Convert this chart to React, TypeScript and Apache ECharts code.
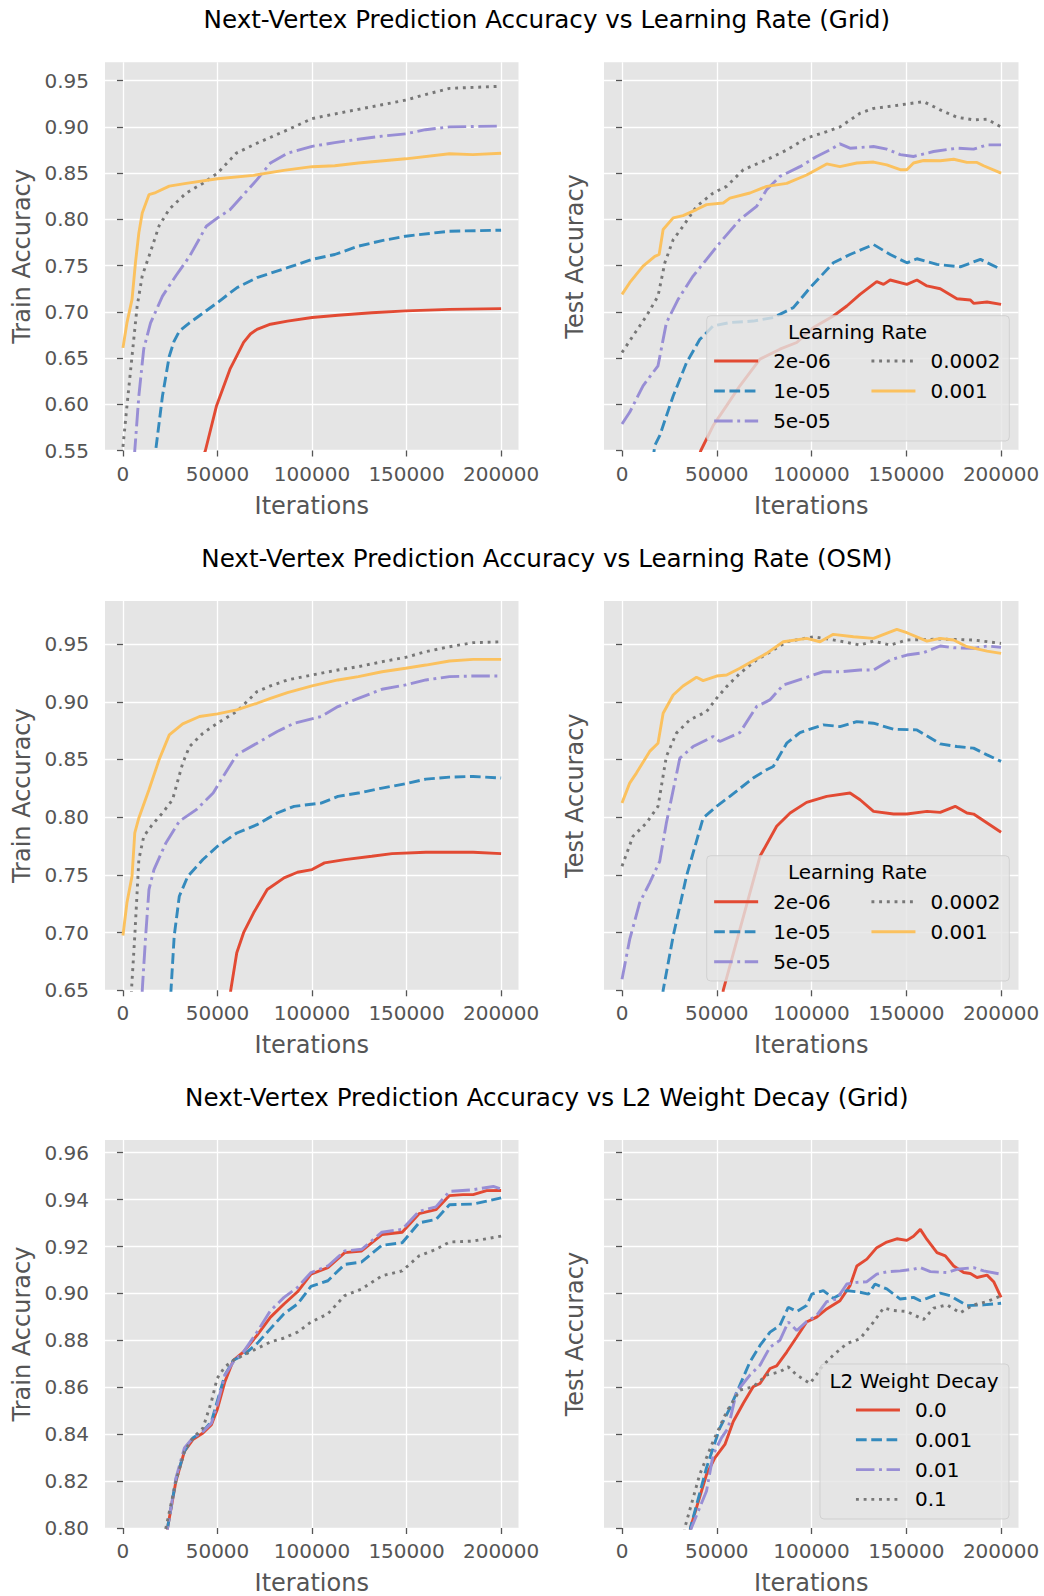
import React, { useEffect, useRef } from "react";
import * as echarts from "echarts";

type Pts = [number, number][];

// ---------- tick values ----------
const xTickValues = [0, 50000, 100000, 150000, 200000];
const yTicksGridLR = [0.55, 0.6, 0.65, 0.7, 0.75, 0.8, 0.85, 0.9, 0.95];
const yTicksOsmLR = [0.65, 0.7, 0.75, 0.8, 0.85, 0.9, 0.95];
const yTicksWD = [0.8, 0.82, 0.84, 0.86, 0.88, 0.9, 0.92, 0.94, 0.96];

// ---------- legend categories ----------
const lrNames = ["2e-06", "1e-05", "5e-05", "0.0002", "0.001"];
const wdNames = ["0.0", "0.001", "0.01", "0.1"];

const titles = [
  "Next-Vertex Prediction Accuracy vs Learning Rate (Grid)",
  "Next-Vertex Prediction Accuracy vs Learning Rate (OSM)",
  "Next-Vertex Prediction Accuracy vs L2 Weight Decay (Grid)",
];

// ---------- Grid, learning rate, train ----------
const gridTrain_2e06: Pts = [[38000,0.52],[43600,0.55],[49500,0.5985],[56600,0.638],[60200,0.6524],[63800,0.667],[67400,0.676],[70900,0.681],[78000,0.6866],[87000,0.69],[100000,0.6938],[113700,0.6963],[131600,0.699],[149500,0.701],[172700,0.7027],[200000,0.7035]];
const gridTrain_1e05: Pts = [[15500,0.52],[17300,0.55],[20900,0.609],[24500,0.652],[27000,0.668],[29800,0.679],[35200,0.688],[50000,0.71],[60200,0.726],[70900,0.737],[87000,0.7477],[100000,0.7567],[112000,0.762],[124500,0.771],[137000,0.777],[149500,0.7818],[172700,0.7872],[200000,0.7883]];
const gridTrain_5e05: Pts = [[5000,0.51],[6250,0.55],[8400,0.609],[11000,0.66],[14600,0.688],[20900,0.717],[28000,0.739],[35200,0.76],[44100,0.7926],[50000,0.8016],[56600,0.8105],[63000,0.825],[70900,0.843],[78000,0.861],[87000,0.8716],[100000,0.879],[112000,0.883],[124500,0.8867],[137000,0.89],[149500,0.8925],[160000,0.897],[172700,0.9],[200000,0.901]];
const gridTrain_2e04: Pts = [[0,0.554],[2100,0.598],[4800,0.652],[7500,0.706],[10200,0.739],[13750,0.76],[19100,0.793],[24500,0.811],[33400,0.8285],[42300,0.839],[50000,0.85],[60000,0.8717],[70900,0.8824],[87000,0.8968],[100000,0.909],[112000,0.914],[124500,0.919],[137000,0.924],[149500,0.929],[160000,0.935],[172700,0.9417],[200000,0.944]];
const gridTrain_1e03: Pts = [[0,0.661],[2100,0.688],[4800,0.7135],[6600,0.753],[8400,0.7854],[10200,0.807],[13750,0.8267],[17300,0.829],[24500,0.836],[33400,0.839],[50000,0.844],[69000,0.8476],[85000,0.853],[100000,0.857],[112000,0.858],[124500,0.861],[149500,0.8655],[172700,0.871],[185000,0.87],[200000,0.8716]];

// ---------- Grid, learning rate, test ----------
const gridTest_2e06: Pts = [[40000,0.54],[41600,0.55],[48100,0.577],[55200,0.5985],[62200,0.62],[72800,0.6488],[83300,0.6596],[92200,0.6668],[101000,0.683],[111500,0.6955],[118600,0.7063],[125600,0.7189],[134400,0.7326],[138000,0.7297],[141500,0.7344],[150300,0.7297],[155600,0.7344],[160900,0.728],[167900,0.725],[176700,0.7142],[183800,0.7128],[185500,0.7092],[192600,0.7106],[200000,0.708]];
const gridTest_1e05: Pts = [[16300,0.54],[17300,0.5554],[19900,0.566],[27000,0.609],[34000,0.6448],[41000,0.67],[48100,0.6848],[56900,0.6884],[69200,0.69],[79800,0.6938],[90400,0.7045],[99200,0.726],[111500,0.753],[120300,0.762],[132700,0.7728],[141500,0.762],[150300,0.753],[155600,0.7574],[166200,0.7513],[178500,0.7487],[189100,0.7567],[200000,0.746]];
const gridTest_5e05: Pts = [[0,0.5787],[4050,0.5913],[11100,0.62],[19000,0.6416],[23400,0.688],[29600,0.7135],[37500,0.7387],[44600,0.7567],[51600,0.7746],[62200,0.7998],[71000,0.814],[76300,0.832],[83300,0.8465],[93900,0.857],[102700,0.868],[109800,0.8753],[115000,0.8817],[120300,0.877],[132700,0.8788],[139700,0.876],[146800,0.87],[153800,0.868],[164400,0.8734],[176700,0.877],[185500,0.876],[192600,0.8806],[200000,0.8806]];
const gridTest_2e04: Pts = [[0,0.656],[5800,0.674],[12900,0.6955],[19000,0.717],[22600,0.753],[27000,0.778],[32200,0.7926],[39300,0.814],[48100,0.8285],[55200,0.8357],[64000,0.8537],[76300,0.8645],[86900,0.875],[97400,0.888],[108000,0.895],[115000,0.9],[125600,0.9148],[132700,0.92],[146800,0.9238],[159100,0.9274],[167900,0.9184],[176700,0.9105],[185500,0.9076],[192600,0.9083],[200000,0.9]];
const gridTest_1e03: Pts = [[0,0.7189],[4050,0.7315],[11100,0.7495],[17300,0.76],[19600,0.762],[21700,0.789],[27000,0.8016],[32200,0.804],[39300,0.8106],[44600,0.816],[53400,0.8177],[56900,0.823],[67500,0.8285],[76300,0.8357],[86900,0.839],[97400,0.848],[108000,0.86],[115000,0.857],[123900,0.861],[132700,0.862],[139700,0.859],[146800,0.8537],[150300,0.8537],[153800,0.861],[159100,0.8637],[167900,0.8634],[175000,0.865],[182000,0.8616],[187300,0.8616],[190800,0.858],[200000,0.85]];

// ---------- OSM, learning rate, train ----------
const osmTrain_2e06: Pts = [[55500,0.62],[57000,0.65],[60200,0.6826],[63800,0.6999],[69100,0.7171],[76300,0.7373],[85200,0.7474],[92300,0.7523],[100000,0.7546],[106600,0.7604],[117300,0.7632],[131600,0.7661],[142300,0.7684],[160200,0.7696],[185200,0.7696],[200000,0.7684]];
const osmTrain_1e05: Pts = [[24800,0.62],[25400,0.65],[27100,0.697],[29800,0.7315],[34300,0.7488],[42300,0.7633],[50000,0.7748],[60200,0.7863],[70900,0.7935],[81600,0.8036],[90500,0.8094],[104800,0.8122],[113700,0.818],[124500,0.8209],[137000,0.8252],[149500,0.829],[160200,0.833],[172700,0.8347],[185200,0.8353],[200000,0.8339]];
const osmTrain_5e05: Pts = [[9700,0.62],[10200,0.65],[12000,0.697],[13750,0.7373],[16400,0.7546],[22700,0.7777],[29800,0.7964],[38800,0.8065],[47700,0.8209],[53000,0.8353],[60200,0.854],[70900,0.8641],[81600,0.8742],[90500,0.8814],[104800,0.8872],[113700,0.8958],[124500,0.903],[137000,0.9108],[149500,0.9146],[160200,0.9189],[172700,0.9218],[185200,0.9223],[200000,0.9223]];
const osmTrain_2e04: Pts = [[4000,0.62],[4500,0.65],[6250,0.697],[8400,0.7633],[11000,0.7834],[15500,0.7935],[20900,0.8036],[26200,0.8151],[31600,0.8468],[35200,0.8612],[42300,0.8728],[50000,0.8814],[60200,0.8915],[70900,0.9088],[78000,0.9137],[87000,0.9189],[100000,0.9232],[113700,0.9275],[124500,0.9304],[137000,0.9347],[149500,0.9385],[160200,0.9434],[172700,0.9477],[185200,0.9512],[200000,0.952]];
const osmTrain_1e03: Pts = [[0,0.6975],[2100,0.7258],[4800,0.749],[6250,0.7863],[8400,0.7993],[13750,0.8238],[19100,0.8497],[24500,0.8713],[31600,0.8808],[40500,0.8872],[50000,0.8895],[60200,0.8929],[70900,0.8987],[78000,0.903],[87000,0.9079],[100000,0.9137],[113700,0.9189],[124500,0.9218],[137000,0.926],[149500,0.929],[160200,0.9318],[172700,0.9353],[185200,0.9367],[200000,0.9367]];

// ---------- OSM, learning rate, test ----------
const osmTest_2e06: Pts = [[52500,0.62],[53400,0.65],[62200,0.7027],[72800,0.7661],[81600,0.7921],[88700,0.8036],[97400,0.8128],[108000,0.818],[120300,0.8209],[125600,0.8151],[132700,0.805],[143300,0.8027],[150300,0.8027],[160900,0.805],[167900,0.8042],[175800,0.8094],[182000,0.8036],[185500,0.8027],[200000,0.7869]];
const osmTest_1e05: Pts = [[20500,0.62],[21700,0.65],[27000,0.697],[34000,0.7488],[42800,0.7993],[49900,0.8094],[56900,0.818],[69200,0.8339],[76300,0.8411],[79800,0.8439],[86900,0.8641],[93900,0.8733],[106200,0.88],[115000,0.8785],[123900,0.8828],[132700,0.8814],[143300,0.8762],[155600,0.8756],[167900,0.8635],[176700,0.8612],[185500,0.8598],[192600,0.854],[200000,0.8483]];
const osmTest_5e05: Pts = [[0,0.6595],[4050,0.6941],[9300,0.7258],[14600,0.7431],[19900,0.7618],[23400,0.795],[30500,0.8511],[37500,0.8612],[48100,0.8699],[51600,0.8656],[62200,0.8733],[71000,0.8958],[78000,0.9016],[85100,0.9145],[97400,0.9212],[106200,0.926],[115000,0.926],[125600,0.9275],[132700,0.9275],[141500,0.9362],[150300,0.9405],[159100,0.9425],[167900,0.9483],[175000,0.9468],[185500,0.9463],[192600,0.9483],[200000,0.9471]];
const osmTest_2e04: Pts = [[0,0.7575],[5800,0.7834],[12900,0.795],[19000,0.8094],[23400,0.8526],[28700,0.8728],[35800,0.8843],[44600,0.8915],[49900,0.903],[55200,0.9131],[62200,0.9246],[71000,0.9362],[79800,0.9448],[86900,0.952],[101000,0.9563],[115000,0.9526],[125600,0.9491],[132700,0.9526],[141500,0.9491],[150300,0.9535],[167900,0.9543],[185500,0.9535],[200000,0.9506]];
const osmTest_1e03: Pts = [[0,0.8122],[4050,0.8295],[7600,0.8382],[14600,0.857],[19000,0.8641],[21700,0.89],[27000,0.9059],[32200,0.9137],[39300,0.9212],[42800,0.9183],[49900,0.9223],[55200,0.9232],[62200,0.929],[69200,0.9356],[76300,0.9419],[85100,0.952],[97400,0.9549],[104500,0.952],[111500,0.9584],[122100,0.9563],[132700,0.9549],[145000,0.9627],[150300,0.9598],[160900,0.9526],[167900,0.9549],[175000,0.9535],[182000,0.9477],[192600,0.9439],[200000,0.9419]];

// ---------- Grid, weight decay, train ----------
const wdTrain_00: Pts = [[22000,0.78],[23570,0.8],[28040,0.82],[32500,0.8327],[36960,0.8377],[42320,0.8405],[46790,0.844],[49820,0.8504],[53930,0.8624],[58390,0.8715],[63750,0.8751],[70890,0.8821],[78040,0.8899],[85180,0.8955],[92320,0.9007],[99460,0.9082],[108390,0.911],[117320,0.9174],[126250,0.9181],[136960,0.9251],[147680,0.9261],[156610,0.934],[165540,0.9357],[172680,0.9417],[179820,0.9421],[185180,0.9421],[192320,0.9438],[200000,0.9439]];
const wdTrain_001: Pts = [[22000,0.78],[23570,0.8],[28040,0.8207],[32500,0.8327],[36960,0.8384],[42320,0.8412],[46790,0.8454],[49820,0.8539],[53930,0.8652],[58390,0.8715],[63750,0.8737],[70890,0.8786],[78040,0.885],[85180,0.8913],[92320,0.8955],[99460,0.903],[108390,0.9054],[117320,0.9124],[126250,0.9134],[136960,0.9205],[147680,0.9216],[156610,0.9301],[165540,0.9315],[172680,0.9378],[185180,0.9381],[200000,0.9407]];
const wdTrain_01: Pts = [[22000,0.78],[23570,0.8],[28040,0.8214],[32500,0.8341],[36960,0.8384],[42320,0.8412],[46790,0.8447],[49820,0.8525],[53930,0.8652],[58390,0.8708],[63750,0.8751],[70890,0.8835],[78040,0.8927],[85180,0.8983],[92320,0.9026],[99460,0.9089],[108390,0.9117],[117320,0.9181],[126250,0.9188],[136960,0.9261],[147680,0.9273],[156610,0.935],[165540,0.9369],[172680,0.9435],[185180,0.9442],[195890,0.9456],[200000,0.9445]];
const wdTrain_1: Pts = [[21000,0.78],[22700,0.8],[28040,0.82],[32500,0.8327],[36960,0.8384],[42320,0.8426],[46790,0.8539],[49820,0.8638],[53930,0.8687],[58390,0.8715],[63750,0.8737],[70890,0.8765],[78040,0.8793],[85180,0.881],[92320,0.8835],[99460,0.8878],[108390,0.8913],[117320,0.8991],[126250,0.9019],[136960,0.9075],[147680,0.9096],[156610,0.916],[165540,0.9188],[172680,0.9219],[185180,0.9223],[200000,0.9244]];

// ---------- Grid, weight decay, test ----------
const wdTest_00: Pts = [[35000,0.785],[36100,0.8],[39300,0.8087],[44600,0.8228],[49000,0.8299],[54300,0.8356],[58700,0.8454],[64000,0.8532],[69200,0.8602],[72800,0.8616],[78100,0.868],[81600,0.8691],[86900,0.875],[92200,0.8814],[97400,0.8878],[102700,0.8899],[108000,0.8934],[115000,0.8969],[120300,0.9033],[123900,0.9117],[129200,0.9146],[134400,0.9195],[139700,0.9219],[145000,0.9233],[150300,0.9226],[153800,0.9244],[157400,0.9273],[160900,0.923],[166200,0.9174],[170600,0.916],[175000,0.9117],[180300,0.9089],[183800,0.9085],[187300,0.9068],[192600,0.9078],[196100,0.905],[200000,0.8983]];
const wdTest_001: Pts = [[35000,0.785],[36100,0.8],[44600,0.8257],[51600,0.8426],[56900,0.851],[62200,0.8609],[67500,0.8708],[72800,0.8778],[78100,0.8835],[83300,0.8863],[87700,0.8941],[92200,0.8923],[97400,0.8948],[100100,0.8997],[106200,0.9012],[111500,0.8979],[118600,0.9012],[125600,0.9005],[130000,0.8997],[133500,0.904],[139700,0.9019],[146800,0.8976],[153800,0.8983],[157400,0.8969],[160900,0.8979],[167900,0.9001],[173200,0.899],[182000,0.8948],[190800,0.8951],[200000,0.8958]];
const wdTest_01: Pts = [[35500,0.785],[36600,0.8],[44600,0.8158],[48100,0.8313],[52500,0.8384],[56000,0.8426],[60400,0.858],[67500,0.8652],[72800,0.8694],[78100,0.8771],[83300,0.88],[87700,0.8878],[92200,0.8842],[97400,0.888],[102700,0.8906],[108000,0.8965],[113300,0.8976],[118600,0.904],[123900,0.9047],[129200,0.905],[134400,0.9082],[139700,0.9092],[146800,0.9096],[153800,0.9103],[157400,0.911],[162700,0.9093],[171500,0.9089],[176700,0.9103],[185500,0.911],[190800,0.9096],[200000,0.9082]];
const wdTest_1: Pts = [[32000,0.785],[33100,0.8],[41000,0.8228],[48100,0.837],[55200,0.8496],[62200,0.8588],[69200,0.8602],[76300,0.8652],[83300,0.8666],[87700,0.8687],[92200,0.8652],[99200,0.8616],[106200,0.8694],[111500,0.8737],[118600,0.8786],[125600,0.8807],[132700,0.8878],[138000,0.8938],[143300,0.8927],[150300,0.8923],[159100,0.8889],[164400,0.8937],[171500,0.8951],[178500,0.8917],[185500,0.8951],[192600,0.8965],[200000,0.899]];

// ---------- styles ----------
const FONT = "DejaVu Sans";
const LW = 2.9;
const STY = {
  red: { color: "#E24A33", type: "solid" as any },
  blue: { color: "#348ABD", type: [10.7, 4.6] as any },
  purple: { color: "#988ED5", type: [18.5, 4.6, 2.9, 4.6] as any },
  gray: { color: "#777777", type: [2.9, 4.8] as any },
  yellow: { color: "#FBC15E", type: "solid" as any },
};
const lrStyles = [STY.red, STY.blue, STY.purple, STY.gray, STY.yellow];
const wdStyles = [STY.red, STY.blue, STY.purple, STY.gray];

const WD_PREFIX = "wd:";

// layout
const X_MIN = -9500;
const X_MAX = 209200;
const rowLayout = [
  { top: 62.3, height: 388.2, yMin: 0.55, yMax: 0.9699, ticks: yTicksGridLR, titleY: 19.5 },
  { top: 601, height: 389.3, yMin: 0.65, yMax: 0.9873, ticks: yTicksOsmLR, titleY: 558.7 },
  { top: 1140, height: 389.5, yMin: 0.8, yMax: 0.9654, ticks: yTicksWD, titleY: 1097.5 },
];
const colLayout = [
  { left: 105, width: 413.5 },
  { left: 604, width: 414.5 },
];

const panelData: { names: string[]; styles: any[]; data: Pts[] }[] = [
  { names: lrNames, styles: lrStyles, data: [gridTrain_2e06, gridTrain_1e05, gridTrain_5e05, gridTrain_2e04, gridTrain_1e03] },
  { names: lrNames, styles: lrStyles, data: [gridTest_2e06, gridTest_1e05, gridTest_5e05, gridTest_2e04, gridTest_1e03] },
  { names: lrNames, styles: lrStyles, data: [osmTrain_2e06, osmTrain_1e05, osmTrain_5e05, osmTrain_2e04, osmTrain_1e03] },
  { names: lrNames, styles: lrStyles, data: [osmTest_2e06, osmTest_1e05, osmTest_5e05, osmTest_2e04, osmTest_1e03] },
  { names: wdNames.map((n) => WD_PREFIX + n), styles: wdStyles, data: [wdTrain_00, wdTrain_001, wdTrain_01, wdTrain_1] },
  { names: wdNames.map((n) => WD_PREFIX + n), styles: wdStyles, data: [wdTest_00, wdTest_001, wdTest_01, wdTest_1] },
];

function buildOption() {
  const grid: any[] = [];
  const xAxis: any[] = [];
  const yAxis: any[] = [];
  const series: any[] = [];
  for (let r = 0; r < 3; r++) {
    for (let c = 0; c < 2; c++) {
      const idx = r * 2 + c;
      const row = rowLayout[r];
      const col = colLayout[c];
      grid.push({
        left: col.left,
        top: row.top,
        width: col.width,
        height: row.height,
        show: true,
        backgroundColor: "#E5E5E5",
        borderWidth: 0,
      });
      xAxis.push({
        type: "value",
        gridIndex: idx,
        min: X_MIN,
        max: X_MAX,
        axisLine: { show: false },
        axisTick: { show: true, length: 6, customValues: xTickValues, lineStyle: { color: "#555555", width: 1.3 } },
        axisLabel: {
          customValues: xTickValues,
          color: "#555555",
          fontSize: 20,
          fontFamily: FONT,
          margin: 13,
          formatter: (v: number) => String(Math.round(v)),
        },
        splitLine: { show: true, lineStyle: { color: "#FFFFFF", width: 1.3 } },
        name: "Iterations",
        nameLocation: "middle",
        nameGap: 43,
        nameTextStyle: { color: "#555555", fontSize: 24, fontFamily: FONT },
      });
      yAxis.push({
        type: "value",
        gridIndex: idx,
        min: row.yMin,
        max: row.yMax,
        axisLine: { show: false },
        axisTick: { show: true, length: 6, customValues: row.ticks, lineStyle: { color: "#555555", width: 1.3 } },
        axisLabel: {
          show: c === 0,
          customValues: row.ticks,
          color: "#555555",
          fontSize: 20,
          fontFamily: FONT,
          margin: 16,
          formatter: (v: number) => v.toFixed(2),
        },
        splitLine: { show: true, lineStyle: { color: "#FFFFFF", width: 1.3 } },
        name: c === 0 ? "Train Accuracy" : "Test Accuracy",
        nameLocation: "middle",
        nameGap: c === 0 ? 71 : 17,
        nameTextStyle: { color: "#555555", fontSize: 24, fontFamily: FONT },
      });
      const pd = panelData[idx];
      pd.data.forEach((d, k) => {
        series.push({
          type: "line",
          name: pd.names[k],
          xAxisIndex: idx,
          yAxisIndex: idx,
          data: d,
          symbol: "none",
          showSymbol: false,
          clip: true,
          silent: true,
          z: 2,
          lineStyle: { color: pd.styles[k].color, width: LW, type: pd.styles[k].type },
          itemStyle: { color: pd.styles[k].color },
        });
      });
    }
  }

  const legendBase = {
    orient: "vertical",
    padding: 0,
    itemWidth: 44,
    itemHeight: 14,
    itemGap: 10,
    selectedMode: false,
    z: 20,
    itemStyle: { opacity: 0 },
    lineStyle: { width: LW, opacity: 1 },
    textStyle: { color: "#000000", fontSize: 20, fontFamily: FONT, lineHeight: 20, padding: [0, 0, 0, 10] },
  };
  const legend: any[] = [
    { ...legendBase, data: lrNames.slice(0, 3), left: 712.7, top: 351 },
    { ...legendBase, data: lrNames.slice(3), left: 870, top: 351 },
    { ...legendBase, data: lrNames.slice(0, 3), left: 712.7, top: 891.7 },
    { ...legendBase, data: lrNames.slice(3), left: 870, top: 891.7 },
    {
      ...legendBase,
      data: wdNames.map((n) => WD_PREFIX + n),
      left: 854.5,
      top: 1400,
      itemGap: 9.8,
      formatter: (n: string) => n.replace(WD_PREFIX, ""),
    },
  ];

  const boxStyle = { fill: "rgba(229,229,229,0.8)", stroke: "rgba(204,204,204,0.8)", lineWidth: 1 };
  const graphic: any[] = [
    ...titles.map((t, i) => ({
      type: "text",
      x: 546.8,
      y: rowLayout[i].titleY,
      style: { text: t, fontSize: 24.6, fontFamily: FONT, fill: "#000000", align: "center", verticalAlign: "middle" },
    })),
    { type: "rect", z: 10, shape: { x: 706.7, y: 315.7, width: 302.6, height: 125.3, r: 4 }, style: boxStyle },
    { type: "rect", z: 10, shape: { x: 706.7, y: 855.7, width: 302.6, height: 125.3, r: 4 }, style: boxStyle },
    { type: "rect", z: 10, shape: { x: 820, y: 1364, width: 189, height: 155, r: 4 }, style: boxStyle },
    { type: "text", z: 21, x: 857.5, y: 332.3, style: { text: "Learning Rate", fontSize: 20, fontFamily: FONT, fill: "#000000", align: "center", verticalAlign: "middle" } },
    { type: "text", z: 21, x: 857.5, y: 872.3, style: { text: "Learning Rate", fontSize: 20, fontFamily: FONT, fill: "#000000", align: "center", verticalAlign: "middle" } },
    { type: "text", z: 21, x: 914, y: 1380.7, style: { text: "L2 Weight Decay", fontSize: 20, fontFamily: FONT, fill: "#000000", align: "center", verticalAlign: "middle" } },
  ];

  return {
    animation: false,
    backgroundColor: "#FFFFFF",
    textStyle: { fontFamily: FONT },
    grid,
    xAxis,
    yAxis,
    series,
    legend,
    graphic,
  };
}

export default function App() {
  const ref = useRef<HTMLDivElement>(null);
  useEffect(() => {
    if (!ref.current) return;
    const chart = echarts.init(ref.current, null, { renderer: "svg" });
    chart.setOption(buildOption() as any);
    return () => chart.dispose();
  }, []);
  return (
    <div
      ref={ref}
      style={{ position: "absolute", left: 0, top: 0, width: 1044, height: 1596, background: "#fff" }}
    />
  );
}
